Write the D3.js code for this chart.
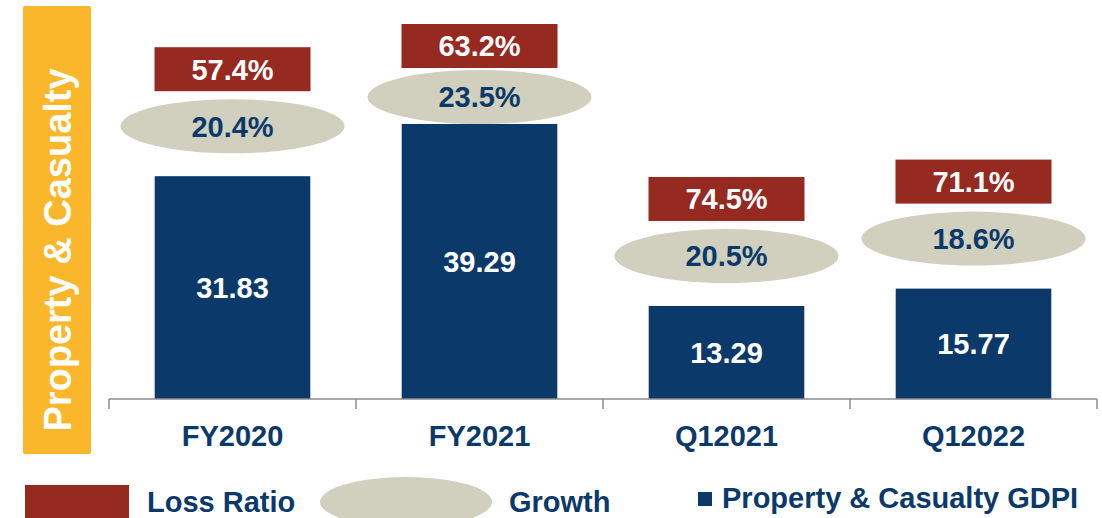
<!DOCTYPE html>
<html lang="en">
<head>
    <meta charset="UTF-8">
    <script src="https://cdn.jsdelivr.net/npm/d3@7/dist/d3.min.js"></script>
    <title>Property & Casualty</title>
    <style>
        body { margin: 0; background: #fff; }
        svg text { font-family: "Liberation Sans", Arial, sans-serif; font-weight: bold; }
    </style>
</head>
<body>
    <svg id="chart" width="1102" height="518"></svg>

    <script>
        // data
        const categories = ['FY2020', 'FY2021', 'Q12021', 'Q12022'];
        const gdpi = [31.83, 39.29, 13.29, 15.77];
        const growth = [20.4, 23.5, 20.5, 18.6];
        const lossRatio = [57.4, 63.2, 74.5, 71.1];

        const navy = '#0b3a6a', red = '#962920', beige = '#d1cfbd', gold = '#fbb72b';
        const fs = 29;
        const svg = d3.select('#chart');

        // side band
        svg.append('rect')
            .attr('x', 23).attr('y', 6).attr('width', 68).attr('height', 448)
            .attr('rx', 2).attr('fill', gold);
        svg.append('text')
            .attr('transform', 'translate(71,250) rotate(-90)')
            .attr('text-anchor', 'middle')
            .attr('font-size', 38)
            .attr('fill', '#fff')
            .text('Property & Casualty');

        // scales
        const xAxis = d3.scaleBand().domain(categories).range([109, 1097]).padding(0);
        const x = d3.scaleBand().domain(categories).range([109, 1097])
            .paddingInner(0.37).paddingOuter(0.185);
        const y = d3.scaleLinear().domain([0, 50]).range([399, 49]);

        // bars
        svg.selectAll('.bar')
            .data(gdpi)
            .enter().append('rect')
            .attr('class', 'bar')
            .attr('x', (d, i) => x(categories[i]))
            .attr('y', d => y(d))
            .attr('width', x.bandwidth())
            .attr('height', d => y(0) - y(d))
            .attr('fill', navy);

        svg.selectAll('.barlabel')
            .data(gdpi)
            .enter().append('text')
            .attr('x', (d, i) => x(categories[i]) + x.bandwidth() / 2)
            .attr('y', d => (y(d) + y(0)) / 2)
            .attr('dy', '0.36em')
            .attr('text-anchor', 'middle')
            .attr('font-size', fs)
            .attr('fill', '#fff')
            .text(d => d.toFixed(2));

        // axis line with ticks at band boundaries
        const axisG = svg.append('g').attr('stroke', '#8c8c8c').attr('stroke-width', 1.5);
        axisG.append('line')
            .attr('x1', xAxis.range()[0]).attr('x2', xAxis.range()[1])
            .attr('y1', y(0)).attr('y2', y(0));
        const bounds = categories.map(c => xAxis(c)).concat([xAxis.range()[1]]);
        axisG.selectAll('.tick')
            .data(bounds)
            .enter().append('line')
            .attr('x1', d => d).attr('x2', d => d)
            .attr('y1', y(0)).attr('y2', y(0) + 10);

        svg.selectAll('.cat')
            .data(categories)
            .enter().append('text')
            .attr('x', d => xAxis(d) + xAxis.bandwidth() / 2)
            .attr('y', 446)
            .attr('text-anchor', 'middle')
            .attr('font-size', fs)
            .attr('fill', navy)
            .text(d => d);

        // growth ellipses and loss ratio boxes above each bar (kept inside the frame)
        const ellY = i => Math.max(y(gdpi[i]) - 50, 97);
        const boxY = i => Math.max(ellY(i) - 57, 46);

        const lab = svg.selectAll('.lab')
            .data(categories)
            .enter().append('g');

        lab.append('ellipse')
            .attr('cx', d => x(d) + x.bandwidth() / 2)
            .attr('cy', (d, i) => ellY(i))
            .attr('rx', 112).attr('ry', 27)
            .attr('fill', beige);
        lab.append('text')
            .attr('x', d => x(d) + x.bandwidth() / 2)
            .attr('y', (d, i) => ellY(i))
            .attr('dy', '0.36em')
            .attr('text-anchor', 'middle')
            .attr('font-size', fs)
            .attr('fill', navy)
            .text((d, i) => growth[i].toFixed(1) + '%');

        lab.append('rect')
            .attr('x', d => x(d) + x.bandwidth() / 2 - 78)
            .attr('y', (d, i) => boxY(i) - 22)
            .attr('width', 156).attr('height', 44)
            .attr('fill', red);
        lab.append('text')
            .attr('x', d => x(d) + x.bandwidth() / 2)
            .attr('y', (d, i) => boxY(i))
            .attr('dy', '0.36em')
            .attr('text-anchor', 'middle')
            .attr('font-size', fs)
            .attr('fill', '#fff')
            .text((d, i) => lossRatio[i].toFixed(1) + '%');

        // legend
        const leg = svg.append('g');
        leg.append('rect').attr('x', 25).attr('y', 485).attr('width', 104).attr('height', 40).attr('fill', red);
        leg.append('text').attr('x', 147).attr('y', 512).attr('font-size', fs).attr('fill', navy).text('Loss Ratio');
        leg.append('ellipse').attr('cx', 406).attr('cy', 502).attr('rx', 86).attr('ry', 25).attr('fill', beige);
        leg.append('text').attr('x', 509).attr('y', 512).attr('font-size', fs).attr('fill', navy).text('Growth');
        leg.append('rect').attr('x', 698).attr('y', 492).attr('width', 14).attr('height', 14).attr('fill', navy);
        leg.append('text').attr('x', 722).attr('y', 508).attr('font-size', fs).attr('fill', navy).text('Property & Casualty GDPI');
    </script>
</body>
</html>
